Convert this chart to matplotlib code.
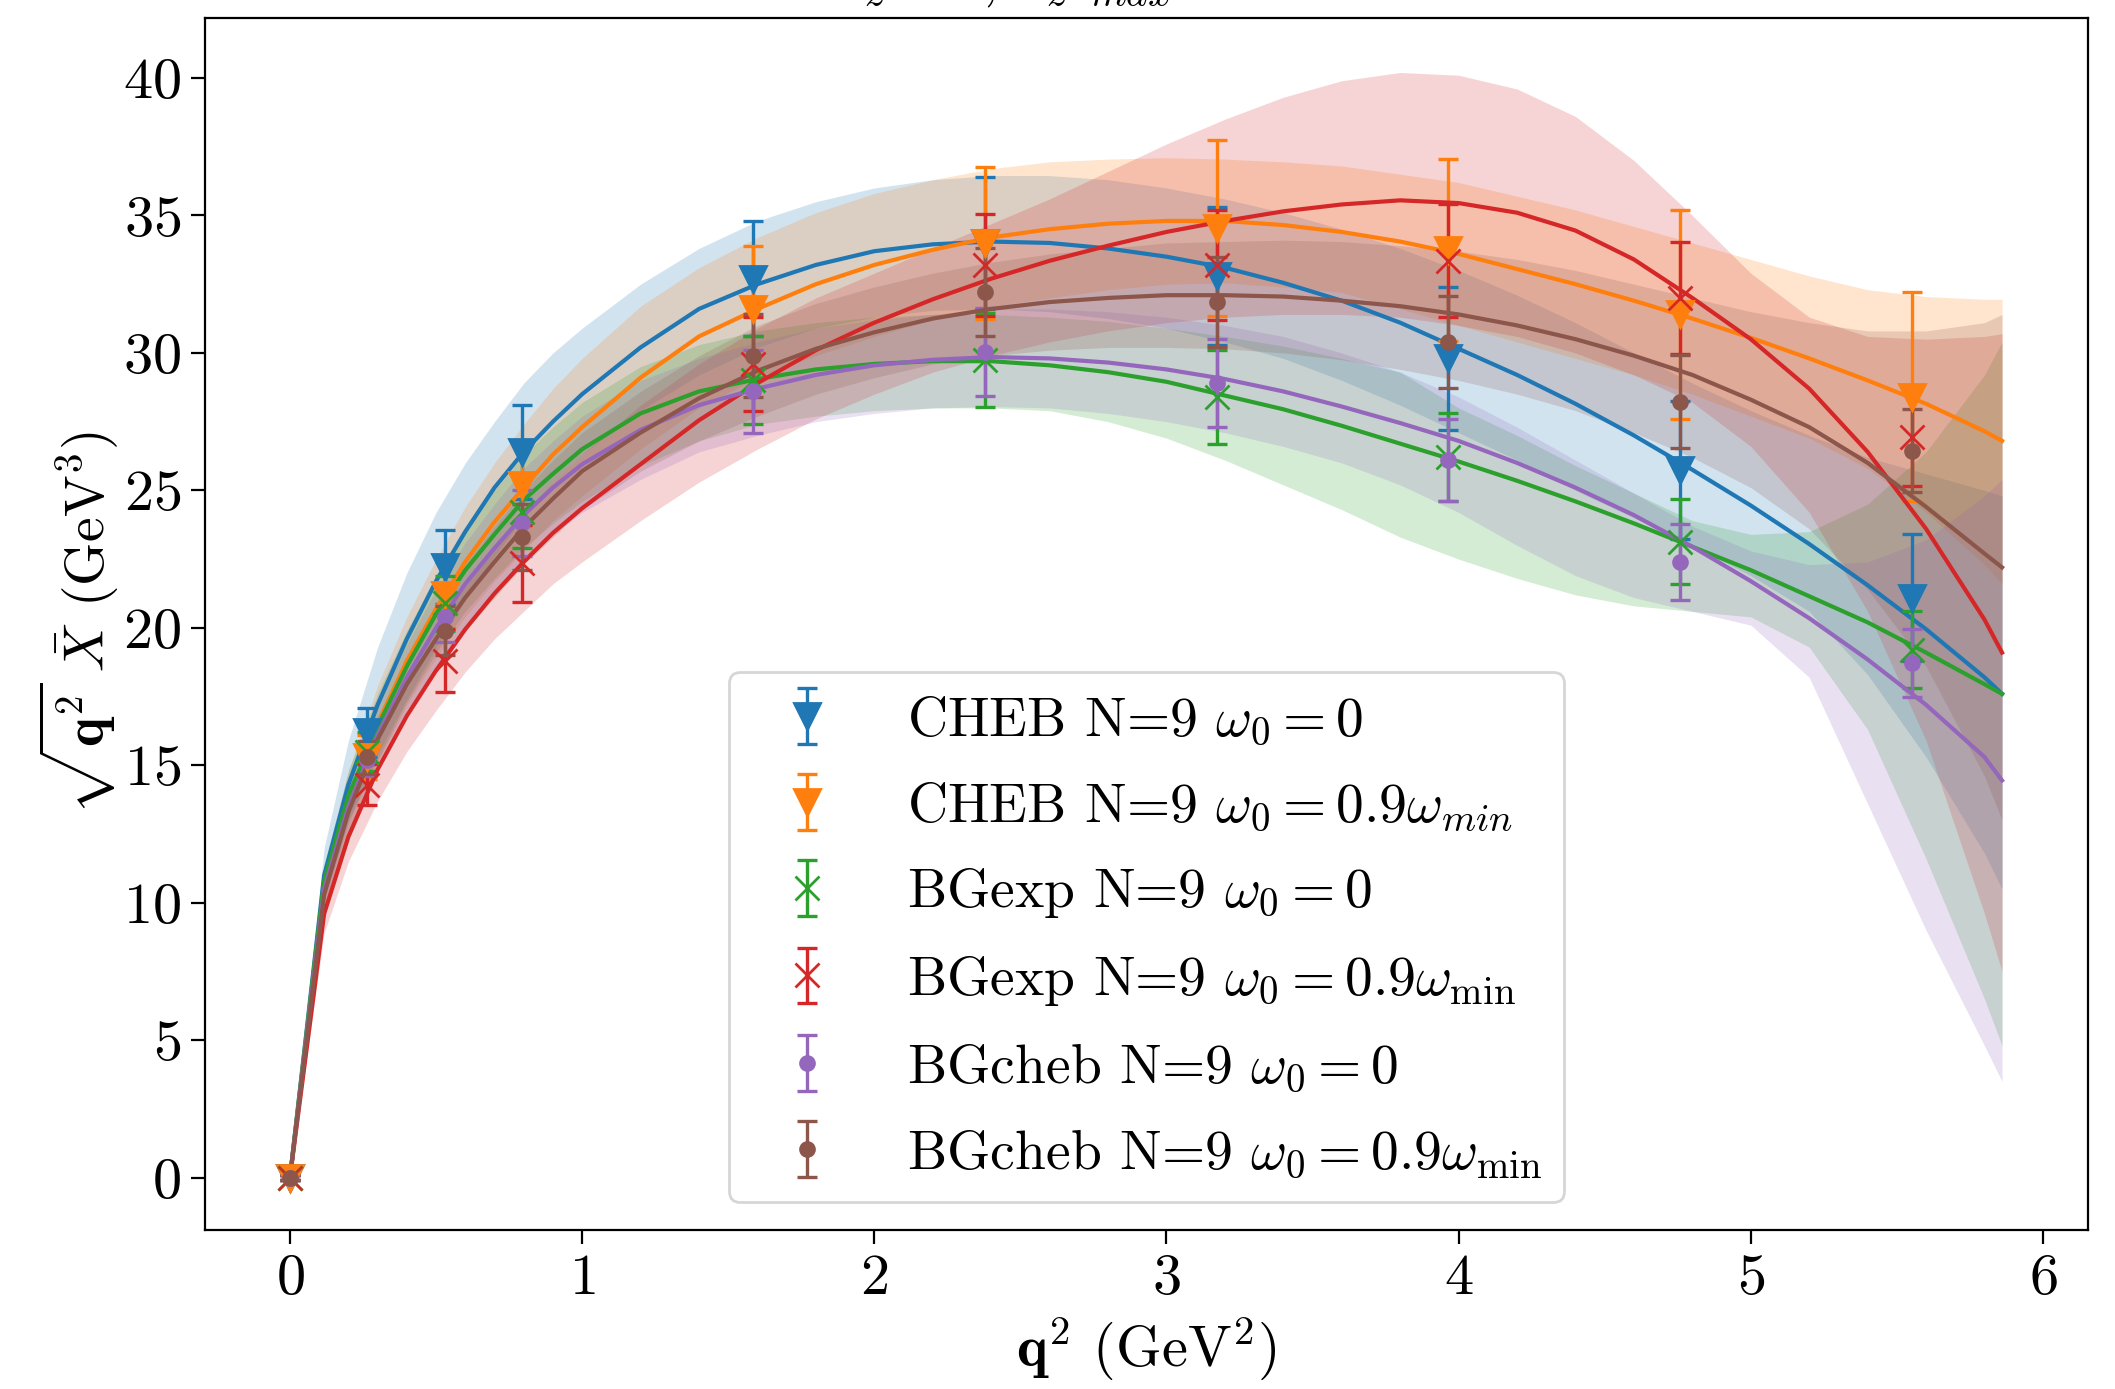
import matplotlib
matplotlib.use("Agg")
import matplotlib.pyplot as plt

plt.rcParams['font.family'] = 'serif'
plt.rcParams['font.serif'] = ['cmr10']
plt.rcParams['mathtext.fontset'] = 'cm'
plt.rcParams['axes.unicode_minus'] = False
plt.rcParams['axes.formatter.use_mathtext'] = True
plt.rcParams['font.size'] = 21

# ---------------- data points ----------------
q2_data = [0.0, 0.264, 0.529, 0.793, 1.586, 2.379, 3.172, 3.965, 4.758, 5.551]

cheb0_y   = [0.0, 16.2, 22.2, 26.4, 32.7, 34.0, 32.8, 29.8, 25.75, 21.1]
cheb0_e   = [0.1, 0.9, 1.35, 1.7, 2.1, 2.4, 2.5, 2.6, 2.5, 2.3]
cheb09_y  = [0.0, 15.3, 21.2, 25.2, 31.6, 34.0, 34.55, 33.75, 31.4, 28.4]
cheb09_e  = [0.1, 0.8, 1.2, 1.5, 2.3, 2.75, 3.2, 3.3, 3.8, 3.8]
bgexp0_y  = [0.0, 15.5, 20.9, 24.2, 29.0, 29.75, 28.4, 26.2, 23.14, 19.2]
bgexp0_e  = [0.1, 0.7, 1.0, 1.3, 1.6, 1.7, 1.7, 1.6, 1.55, 1.4]
bgexp09_y = [0.0, 14.3, 18.8, 22.35, 29.6, 33.2, 33.2, 33.35, 32.0, 26.95]
bgexp09_e = [0.1, 0.75, 1.15, 1.4, 1.7, 1.85, 2.0, 2.05, 2.05, 1.8]
bgch0_y   = [0.0, 15.2, 20.4, 23.8, 28.6, 30.05, 28.9, 26.1, 22.4, 18.72]
bgch0_e   = [0.1, 0.6, 0.9, 1.2, 1.5, 1.6, 1.6, 1.5, 1.37, 1.23]
bgch09_y  = [0.0, 15.3, 19.9, 23.3, 29.9, 32.2, 31.85, 30.4, 28.23, 26.45]
bgch09_e  = [0.1, 0.6, 0.9, 1.2, 1.5, 1.6, 1.65, 1.67, 1.7, 1.5]

# ---------------- fit curves and bands ----------------
q2_fit = [0, 0.117, 0.2, 0.3, 0.4, 0.5, 0.6, 0.7, 0.8, 0.9, 1.0, 1.2, 1.4, 1.6, 1.8,
          2.0, 2.2, 2.4, 2.6, 2.8, 3.0, 3.2, 3.4, 3.6, 3.8, 4.0, 4.2, 4.4, 4.6, 4.8,
          5.0, 5.2, 5.4, 5.6, 5.8, 5.86]

cheb0_c  = [0, 11.0, 14.3, 17.2, 19.6, 21.7, 23.5, 25.1, 26.4, 27.5, 28.5, 30.2, 31.6,
            32.5, 33.2, 33.7, 33.95, 34.05, 34.0, 33.8, 33.5, 33.1, 32.55, 31.9, 31.1,
            30.15, 29.2, 28.15, 27.0, 25.75, 24.45, 23.05, 21.55, 19.95, 18.2, 17.6]
cheb0_hi = [0, 12.0, 15.9, 19.3, 22.0, 24.2, 26.0, 27.5, 28.9, 30.0, 30.9, 32.5, 33.8,
            34.8, 35.5, 36.0, 36.3, 36.45, 36.45, 36.3, 36.0, 35.6, 35.1, 34.5, 33.8,
            33.0, 32.1, 31.1, 30.0, 28.9, 27.9, 27.0, 26.2, 25.6, 25.0, 24.8]
cheb0_lo = [0, 10.0, 12.9, 15.4, 17.4, 19.3, 21.0, 22.6, 24.0, 25.3, 26.3, 27.9, 29.2,
            30.2, 30.9, 31.3, 31.55, 31.6, 31.5, 31.25, 30.9, 30.4, 29.8, 29.0, 28.1,
            27.1, 26.1, 25.0, 24.0, 23.0, 21.9, 20.6, 18.3, 15.3, 11.8, 10.5]

cheb09_c  = [0, 10.6, 13.7, 16.5, 18.8, 20.7, 22.4, 23.85, 25.1, 26.3, 27.3, 29.1, 30.6,
             31.6, 32.5, 33.2, 33.75, 34.2, 34.5, 34.7, 34.8, 34.8, 34.65, 34.4, 34.05,
             33.6, 33.05, 32.5, 31.9, 31.25, 30.55, 29.8, 29.0, 28.15, 27.15, 26.8]
cheb09_hi = [0, 11.3, 14.8, 17.9, 20.4, 22.5, 24.4, 26.0, 27.4, 28.7, 29.8, 31.7, 33.1,
             34.2, 35.1, 35.8, 36.3, 36.7, 36.95, 37.05, 37.1, 37.05, 36.95, 36.8, 36.5,
             36.2, 35.7, 35.2, 34.6, 34.0, 33.4, 32.8, 32.3, 32.05, 31.95, 31.95]
cheb09_lo = [0, 9.9, 12.6, 15.1, 17.2, 18.9, 20.4, 21.7, 22.8, 23.9, 24.8, 26.5, 28.0,
             29.1, 29.9, 30.6, 31.2, 31.7, 32.0, 32.3, 32.5, 32.55, 32.4, 32.2, 31.6,
             31.0, 30.4, 29.8, 29.2, 28.5, 27.7, 26.9, 25.8, 24.2, 22.3, 21.6]

bgexp0_c  = [0, 10.8, 13.9, 16.4, 18.6, 20.5, 22.1, 23.4, 24.65, 25.6, 26.5, 27.8, 28.6,
             29.05, 29.4, 29.6, 29.7, 29.7, 29.55, 29.3, 28.95, 28.45, 27.95, 27.35, 26.7,
             26.05, 25.35, 24.6, 23.8, 22.95, 22.1, 21.15, 20.2, 19.1, 17.95, 17.6]
bgexp0_hi = [0, 11.4, 14.8, 17.6, 19.9, 21.9, 23.6, 25.0, 26.3, 27.3, 28.2, 29.5, 30.3,
             30.8, 31.1, 31.3, 31.4, 31.4, 31.3, 31.15, 30.9, 30.6, 30.25, 29.8, 29.3,
             28.0, 27.0, 25.9, 24.9, 23.9, 23.4, 23.5, 24.5, 26.4, 29.2, 30.4]
bgexp0_lo = [0, 10.2, 13.0, 15.2, 17.3, 19.1, 20.6, 21.8, 22.9, 23.8, 24.6, 25.9, 26.8,
             27.4, 27.7, 27.9, 28.0, 28.0, 27.9, 27.5, 26.9, 26.1, 25.2, 24.3, 23.3,
             22.5, 21.8, 21.2, 20.8, 20.6, 20.4, 19.3, 16.3, 11.6, 6.5, 4.8]

bgexp09_c  = [0, 9.6, 12.4, 14.85, 16.8, 18.45, 19.95, 21.25, 22.4, 23.45, 24.35, 25.95,
              27.55, 28.9, 30.1, 31.1, 31.95, 32.7, 33.35, 33.9, 34.4, 34.8, 35.15, 35.4,
              35.55, 35.45, 35.1, 34.45, 33.4, 32.0, 30.5, 28.7, 26.4, 23.6, 20.3, 19.1]
bgexp09_hi = [0, 10.3, 13.3, 16.0, 18.1, 19.9, 21.5, 22.9, 24.2, 25.3, 26.3, 28.1, 29.6,
              30.9, 32.0, 32.9, 33.8, 34.7, 35.6, 36.6, 37.6, 38.5, 39.3, 39.9, 40.2,
              40.1, 39.6, 38.6, 37.0, 35.0, 32.9, 31.3, 30.6, 30.5, 30.6, 30.7]
bgexp09_lo = [0, 8.9, 11.5, 13.7, 15.5, 17.0, 18.4, 19.6, 20.6, 21.6, 22.4, 23.9, 25.3,
              26.5, 27.6, 28.5, 29.3, 29.9, 30.4, 30.8, 31.1, 31.3, 31.4, 31.4, 31.3,
              31.0, 30.6, 30.0, 29.2, 28.2, 26.6, 24.2, 20.6, 15.9, 9.6, 7.5]

bgch0_c  = [0, 10.5, 13.5, 16.1, 18.2, 20.0, 21.6, 22.9, 24.1, 25.1, 25.95, 27.2, 28.1,
            28.7, 29.2, 29.55, 29.75, 29.85, 29.8, 29.65, 29.4, 29.05, 28.6, 28.05, 27.45,
            26.8, 26.0, 25.1, 24.1, 22.95, 21.7, 20.35, 18.85, 17.2, 15.3, 14.45]
bgch0_hi = [0, 11.1, 14.4, 17.2, 19.4, 21.4, 23.1, 24.5, 25.8, 26.8, 27.7, 29.0, 29.8,
            30.4, 30.9, 31.2, 31.4, 31.6, 31.6, 31.5, 31.3, 31.0, 30.6, 30.0, 29.3,
            28.4, 27.3, 26.1, 24.9, 23.7, 22.8, 22.3, 22.4, 23.2, 24.8, 25.4]
bgch0_lo = [0, 9.9, 12.6, 15.0, 17.0, 18.6, 20.1, 21.3, 22.4, 23.4, 24.2, 25.4, 26.4,
            27.0, 27.5, 27.8, 28.0, 28.05, 28.0, 27.8, 27.5, 27.1, 26.6, 26.0, 25.2,
            24.2, 23.0, 21.9, 21.1, 20.6, 20.1, 18.2, 13.6, 9.0, 4.8, 3.5]

bgch09_c  = [0, 10.3, 13.3, 15.95, 17.95, 19.6, 21.1, 22.4, 23.65, 24.7, 25.7, 27.1, 28.35,
             29.35, 30.15, 30.75, 31.25, 31.6, 31.85, 32.0, 32.1, 32.1, 32.05, 31.9, 31.7,
             31.4, 31.0, 30.5, 29.9, 29.2, 28.3, 27.3, 26.0, 24.4, 22.7, 22.2]
bgch09_hi = [0, 10.9, 14.0, 16.8, 18.9, 20.7, 22.3, 23.7, 25.0, 26.1, 27.1, 28.6, 29.9,
             31.0, 31.8, 32.4, 32.9, 33.3, 33.6, 33.8, 34.0, 34.05, 34.1, 34.05, 33.9,
             33.7, 33.4, 33.0, 32.5, 32.0, 31.5, 31.1, 30.8, 30.8, 31.1, 31.4]
bgch09_lo = [0, 9.7, 12.6, 15.1, 17.0, 18.5, 19.9, 21.1, 22.3, 23.3, 24.3, 25.7, 26.8,
             27.7, 28.5, 29.1, 29.6, 29.9, 30.1, 30.2, 30.2, 30.15, 30.0, 29.75, 29.4,
             29.0, 28.5, 27.9, 27.1, 26.2, 25.1, 23.6, 21.4, 18.6, 14.6, 13.0]

labels = [r"CHEB N=9 $\omega_0 = 0$",
          r"CHEB N=9 $\omega_0 = 0.9\omega_{min}$",
          r"BGexp N=9 $\omega_0 = 0$",
          r"BGexp N=9 $\omega_0 = 0.9\omega_{\rm min}$",
          r"BGcheb N=9 $\omega_0 = 0$",
          r"BGcheb N=9 $\omega_0 = 0.9\omega_{\rm min}$"]
colors = ['#1f77b4', '#ff7f0e', '#2ca02c', '#d62728', '#9467bd', '#8c564b']
markers = ['v', 'v', 'x', 'x', '.', '.']
msizes = [9.5, 9.5, 8.5, 8.5, 10, 10]

series = [
    (cheb0_y, cheb0_e, cheb0_c, cheb0_lo, cheb0_hi),
    (cheb09_y, cheb09_e, cheb09_c, cheb09_lo, cheb09_hi),
    (bgexp0_y, bgexp0_e, bgexp0_c, bgexp0_lo, bgexp0_hi),
    (bgexp09_y, bgexp09_e, bgexp09_c, bgexp09_lo, bgexp09_hi),
    (bgch0_y, bgch0_e, bgch0_c, bgch0_lo, bgch0_hi),
    (bgch09_y, bgch09_e, bgch09_c, bgch09_lo, bgch09_hi),
]

fig = plt.figure(figsize=(10.575, 6.945), dpi=200)
ax = fig.add_axes([0.0969, 0.1145, 0.8903, 0.8729])

for (y, e, c, lo, hi), col in zip(series, colors):
    ax.fill_between(q2_fit, lo, hi, color=col, alpha=0.2, linewidth=0)

for (y, e, c, lo, hi), col, m, ms, lab in zip(series, colors, markers, msizes, labels):
    ax.plot(q2_fit, c, color=col, lw=1.5)
    ax.errorbar(q2_data, y, yerr=e, fmt=m, color=col, ms=ms, capsize=3.5,
                elinewidth=1.2, capthick=1.2, label=lab)

ax.set_xlim(-0.291, 6.154)
ax.set_ylim(-1.9, 42.2)
ax.set_xticks([0, 1, 2, 3, 4, 5, 6])
ax.set_yticks([0, 5, 10, 15, 20, 25, 30, 35, 40])
ax.tick_params(labelsize=21, length=5)
ax.set_xlabel(r"$\mathbf{q}^2$ (GeV$^2$)", fontsize=21, labelpad=4)
ax.set_ylabel(r"$\sqrt{\mathbf{q}^2}\;\bar{X}$ (GeV$^3$)", fontsize=20, labelpad=1)

leg = ax.legend(loc='lower center', fontsize=20, framealpha=0.8, labelspacing=0.6)

# title, mostly above the top edge of the figure (cut off as in the original)
fig.text(752 / 2115, 1.0 + 3 / 1389,
         r"$\sqrt{a}\,t_z = 4,\ t_z t_{max}$",
         ha='left', va='baseline', fontsize=21)

fig.savefig("out.png", dpi=200)
